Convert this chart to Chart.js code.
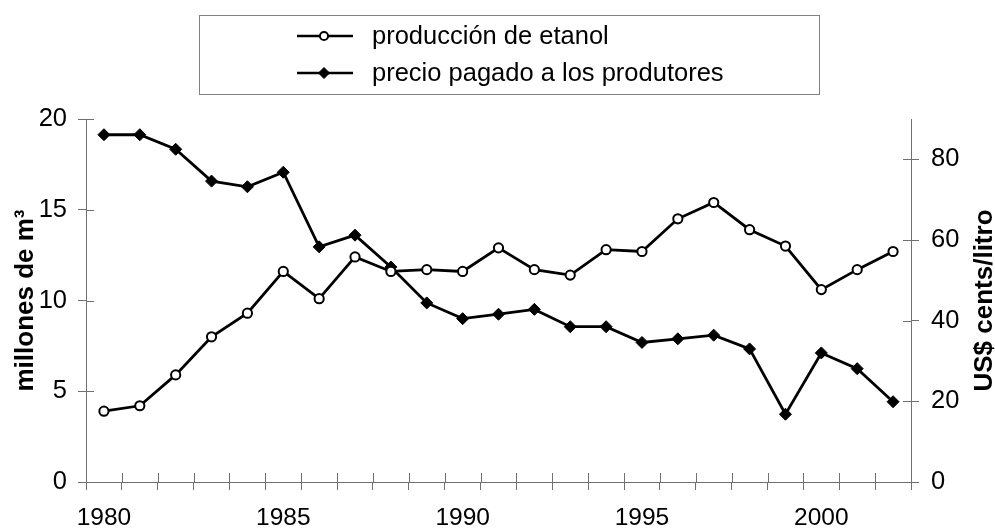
<!DOCTYPE html>
<html>
<head>
<meta charset="utf-8">
<script src="https://cdn.jsdelivr.net/npm/chart.js@4/dist/chart.umd.min.js"></script>
<style>
  html, body { margin: 0; padding: 0; background: #fff; }
</style>
</head>
<body>
<canvas id="chart" width="995" height="529"></canvas>
<script>
// data
const years = ['1980','1981','1982','1983','1984','1985','1986','1987','1988','1989','1990','1991',
               '1992','1993','1994','1995','1996','1997','1998','1999','2000','2001','2002'];
const produccion = [3.9, 4.2, 5.9, 8.0, 9.3, 11.6, 10.1, 12.4, 11.6, 11.7, 11.6, 12.9,
                    11.7, 11.4, 12.8, 12.7, 14.5, 15.4, 13.9, 13.0, 10.6, 11.7, 12.7];
const precio = [86.1, 86.1, 82.5, 74.6, 73.2, 76.8, 58.3, 61.2, 53.3, 44.4, 40.5, 41.6,
                42.8, 38.5, 38.5, 34.6, 35.5, 36.4, 33.0, 16.8, 32.0, 28.1, 19.9];
const yearLabels = ['1980', '1985', '1990', '1995', '2000'];
const leftTicks = [0, 5, 10, 15, 20];
const rightTicks = [0, 20, 40, 60, 80];

const FONT = "'Liberation Sans', Arial, sans-serif";
const AXIS = '#707070';

// small tick halves inside the plot, like the original
const innerTicks = {
  id: 'innerTicks',
  afterDraw(chart) {
    const ctx = chart.ctx;
    const {x, y, y2} = chart.scales;
    ctx.save();
    ctx.strokeStyle = AXIS;
    ctx.lineWidth = 1;
    ctx.beginPath();
    for (let i = 0; i <= years.length; i++) {
      const px = Math.round(x.getPixelForValue(i - 0.5)) + 0.5;
      ctx.moveTo(px, y.bottom);
      ctx.lineTo(px, y.bottom - 9);
    }
    leftTicks.forEach(v => {
      const py = Math.round(y.getPixelForValue(v)) + 0.5;
      ctx.moveTo(y.right, py);
      ctx.lineTo(y.right + 8, py);
    });
    rightTicks.forEach(v => {
      const py = Math.round(y2.getPixelForValue(v)) + 0.5;
      ctx.moveTo(y2.left, py);
      ctx.lineTo(y2.left - 8, py);
    });
    ctx.stroke();
    ctx.restore();
  }
};

// right title reads bottom-to-top, and the boxed legend
const extras = {
  id: 'extras',
  afterDraw(chart) {
    const ctx = chart.ctx;
    const area = chart.chartArea;
    ctx.save();
    ctx.fillStyle = '#000';
    ctx.font = 'bold 26px ' + FONT;
    ctx.textAlign = 'center';
    ctx.textBaseline = 'middle';
    ctx.translate(985, (area.top + area.bottom) / 2);
    ctx.rotate(-Math.PI / 2);
    ctx.fillText('US$ cents/litro', 0, 0);
    ctx.restore();

    ctx.save();
    ctx.strokeStyle = '#808080';
    ctx.lineWidth = 1;
    ctx.strokeRect(199.5, 15.5, 620, 79);
    const rows = [36, 73];
    chart.data.datasets.forEach((ds, i) => {
      const ry = rows[i];
      ctx.strokeStyle = '#000';
      ctx.lineWidth = 2.5;
      ctx.beginPath();
      ctx.moveTo(297, ry);
      ctx.lineTo(353, ry);
      ctx.stroke();
      ctx.lineWidth = ds.pointBorderWidth;
      ctx.fillStyle = ds.pointBackgroundColor;
      ctx.strokeStyle = ds.pointBorderColor;
      Chart.helpers.drawPoint(ctx, {pointStyle: ds.pointStyle, radius: ds.pointRadius - 0.5, borderWidth: ds.pointBorderWidth}, 324, ry);
      ctx.fillStyle = '#000';
      ctx.font = '25.5px ' + FONT;
      ctx.textAlign = 'left';
      ctx.textBaseline = 'middle';
      ctx.fillText(ds.label, 372, ry + 1);
    });
    ctx.restore();
  }
};

new Chart(document.getElementById('chart'), {
  type: 'line',
  data: {
    labels: years,
    datasets: [{
      label: 'producción de etanol',
      data: produccion,
      yAxisID: 'y',
      borderColor: '#000',
      borderWidth: 2.8,
      pointStyle: 'circle',
      pointRadius: 4.6,
      pointBorderWidth: 2,
      pointBackgroundColor: '#fff',
      pointBorderColor: '#000',
      tension: 0
    }, {
      label: 'precio pagado a los produtores',
      data: precio,
      yAxisID: 'y2',
      borderColor: '#000',
      borderWidth: 2.8,
      pointStyle: 'rectRot',
      pointRadius: 6,
      pointBorderWidth: 1,
      pointBackgroundColor: '#000',
      pointBorderColor: '#000',
      tension: 0
    }]
  },
  options: {
    responsive: false,
    animation: false,
    layout: {padding: {top: 119, left: 0, right: 0, bottom: 0}},
    plugins: {legend: {display: false}, tooltip: {enabled: false}},
    scales: {
      x: {
        type: 'category',
        offset: true,
        grid: {offset: true, drawOnChartArea: false, tickLength: 8, color: AXIS},
        border: {color: AXIS, width: 1},
        ticks: {
          autoSkip: false, maxRotation: 0, color: '#000', font: {family: FONT, size: 24.5}, padding: 14,
          callback: (v, i) => yearLabels.includes(years[i]) ? years[i] : ''
        },
        afterFit: s => { s.height = 47; }
      },
      y: {
        position: 'left',
        min: 0, max: 20,
        afterBuildTicks: s => { s.ticks = leftTicks.map(v => ({value: v})); },
        grid: {drawOnChartArea: false, tickLength: 8, color: AXIS},
        border: {color: AXIS, width: 1},
        ticks: {color: '#000', font: {family: FONT, size: 25.5}, padding: 11},
        title: {display: true, text: 'millones de m³', color: '#000',
                font: {family: FONT, size: 26, weight: 'bold'}, padding: {top: 10, bottom: 0}},
        afterFit: s => { s.width = 86; }
      },
      y2: {
        position: 'right',
        min: 0, max: 90,
        afterBuildTicks: s => { s.ticks = rightTicks.map(v => ({value: v})); },
        grid: {drawOnChartArea: false, tickLength: 8, color: AXIS},
        border: {color: AXIS, width: 1},
        ticks: {color: '#000', font: {family: FONT, size: 25.5}, padding: 12},
        afterFit: s => { s.width = 84; }
      }
    }
  },
  plugins: [innerTicks, extras]
});
</script>
</body>
</html>
